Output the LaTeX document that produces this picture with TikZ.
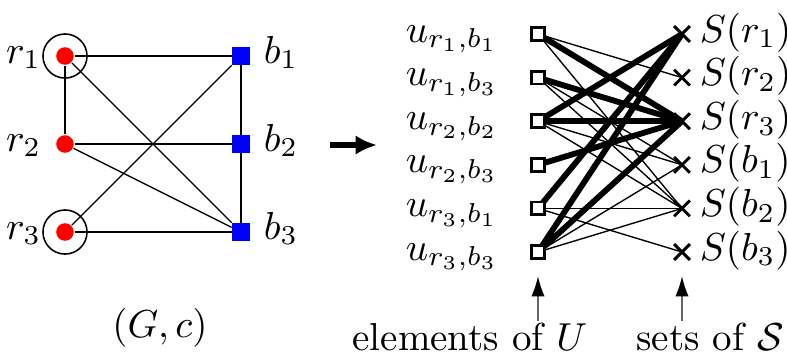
\documentclass[tikz,border=0pt]{standalone}
\usetikzlibrary{arrows.meta,shapes.misc,backgrounds}
\begin{document}
\begin{tikzpicture}[x=0.2564pt,y=-0.2564pt,
  reddot/.style={circle,fill=red,inner sep=0pt,minimum size=4.5pt},
  bluesq/.style={rectangle,fill=blue,inner sep=0pt,minimum size=4.4pt},
  ring/.style={circle,draw,line width=0.4pt,inner sep=0pt,minimum size=11.3pt},
  gedge/.style={line width=0.35pt},
  elem/.style={rectangle,draw,fill=white,line width=0.7pt,inner sep=0pt,minimum size=3.3pt},
  setx/.style={cross out,draw,line width=0.75pt,inner sep=0pt,minimum size=3.3pt},
  thinln/.style={line width=0.35pt},
  thickln/.style={line width=1.5pt},
  lbl/.style={inner sep=0pt},
  pointer/.style={line width=0.45pt,black!60,-{Latex[length=5.2pt,width=3.4pt,black]}}
]
\useasboundingbox (0,0) rectangle (787,356);
% ---- left graph ----
\node[reddot] (r1) at (65,56) {};
\node[reddot] (r2) at (65,144) {};
\node[reddot] (r3) at (65,232) {};
\node[bluesq] (b1) at (241,56) {};
\node[bluesq] (b2) at (241,144) {};
\node[bluesq] (b3) at (241,232) {};
\node[ring] (c1) at (65,56) {};
\node[ring] (c3) at (65,232) {};
\draw[gedge] (r1) -- (b1);
\draw[gedge] (r1) -- (r2);
\draw[gedge] (r1) -- (b3);
\draw[gedge] (r2) -- (b2);
\draw[gedge] (r2) -- (b3);
\draw[gedge] (r3) -- (b1);
\draw[gedge] (r3) -- (b3);
\draw[gedge] (b1) -- (b2);
\draw[gedge] (b2) -- (b3);
\node[lbl,anchor=base east] (lr1) at (42,63) {$r_1$};
\node[lbl,anchor=base east] (lr2) at (42,151) {$r_2$};
\node[lbl,anchor=base east] (lr3) at (42,239) {$r_3$};
\node[lbl,anchor=base west] (lb1) at (263,63) {$b_1$};
\node[lbl,anchor=base west] (lb2) at (263,151) {$b_2$};
\node[lbl,anchor=base west] (lb3) at (263,239) {$b_3$};
\node[lbl,anchor=base] (lg) at (160,337) {$(G,c)$};
% ---- big arrow ----
\coordinate (a1) at (330,145);
\coordinate (a2) at (377,145);
\draw[line width=1.3pt,-{Latex[length=5.5pt,width=5pt]}] (a1) -- (a2);
% ---- right: set system ----
\node[elem] (u1) at (538,34) {};
\node[elem] (u2) at (538,77.6) {};
\node[elem] (u3) at (538,121.2) {};
\node[elem] (u4) at (538,164.8) {};
\node[elem] (u5) at (538,208.4) {};
\node[elem] (u6) at (538,252) {};
\node[setx] (s1) at (682,34) {};
\node[setx] (s2) at (682,77.6) {};
\node[setx] (s3) at (682,121.2) {};
\node[setx] (s4) at (682,164.8) {};
\node[setx] (s5) at (682,208.4) {};
\node[setx] (s6) at (682,252) {};
\begin{scope}[on background layer]
  \draw[thinln] (u1.center) -- (s2.center);
  \draw[thinln] (u1.center) -- (s5.center);
  \draw[thinln] (u2.center) -- (s4.center);
  \draw[thinln] (u2.center) -- (s5.center);
  \draw[thinln] (u3.center) -- (s4.center);
  \draw[thinln] (u3.center) -- (s5.center);
  \draw[thinln] (u5.center) -- (s5.center);
  \draw[thinln] (u5.center) -- (s6.center);
  \draw[thinln] (u6.center) -- (s4.center);
  \draw[thinln] (u6.center) -- (s5.center);
  \draw[thickln] (u1.center) -- (s3.center);
  \draw[thickln] (u2.center) -- (s3.center);
  \draw[thickln] (u3.center) -- (s1.center);
  \draw[thickln] (u3.center) -- (s3.center);
  \draw[thickln] (u4.center) -- (s3.center);
  \draw[thickln] (u5.center) -- (s1.center);
  \draw[thickln] (u6.center) -- (s1.center);
  \draw[thickln] (u6.center) -- (s3.center);
\end{scope}
\node[lbl,anchor=base west] (lu1) at (405,42) {$u_{r_1,b_1}$};
\node[lbl,anchor=base west] (lu2) at (405,85.6) {$u_{r_1,b_3}$};
\node[lbl,anchor=base west] (lu3) at (405,129.2) {$u_{r_2,b_2}$};
\node[lbl,anchor=base west] (lu4) at (405,172.8) {$u_{r_2,b_3}$};
\node[lbl,anchor=base west] (lu5) at (405,216.4) {$u_{r_3,b_1}$};
\node[lbl,anchor=base west] (lu6) at (405,260) {$u_{r_3,b_3}$};
\node[lbl,anchor=base west] (ls1) at (699,42) {$S(r_1)$};
\node[lbl,anchor=base west] (ls2) at (699,85.6) {$S(r_2)$};
\node[lbl,anchor=base west] (ls3) at (699,129.2) {$S(r_3)$};
\node[lbl,anchor=base west] (ls4) at (699,172.8) {$S(b_1)$};
\node[lbl,anchor=base west] (ls5) at (699,216.4) {$S(b_2)$};
\node[lbl,anchor=base west] (ls6) at (699,260) {$S(b_3)$};
% ---- bottom captions ----
\node[lbl,anchor=base] (cu) at (470,350) {elements of $U$};
\node[lbl,anchor=base] (cs) at (710,350) {sets of $\mathcal{S}$};
\coordinate (p1) at (538,321);
\coordinate (p2) at (538,276);
\coordinate (q1) at (682,321);
\coordinate (q2) at (682,276);
\draw[pointer] (p1) -- (p2);
\draw[pointer] (q1) -- (q2);
\end{tikzpicture}
\end{document}
